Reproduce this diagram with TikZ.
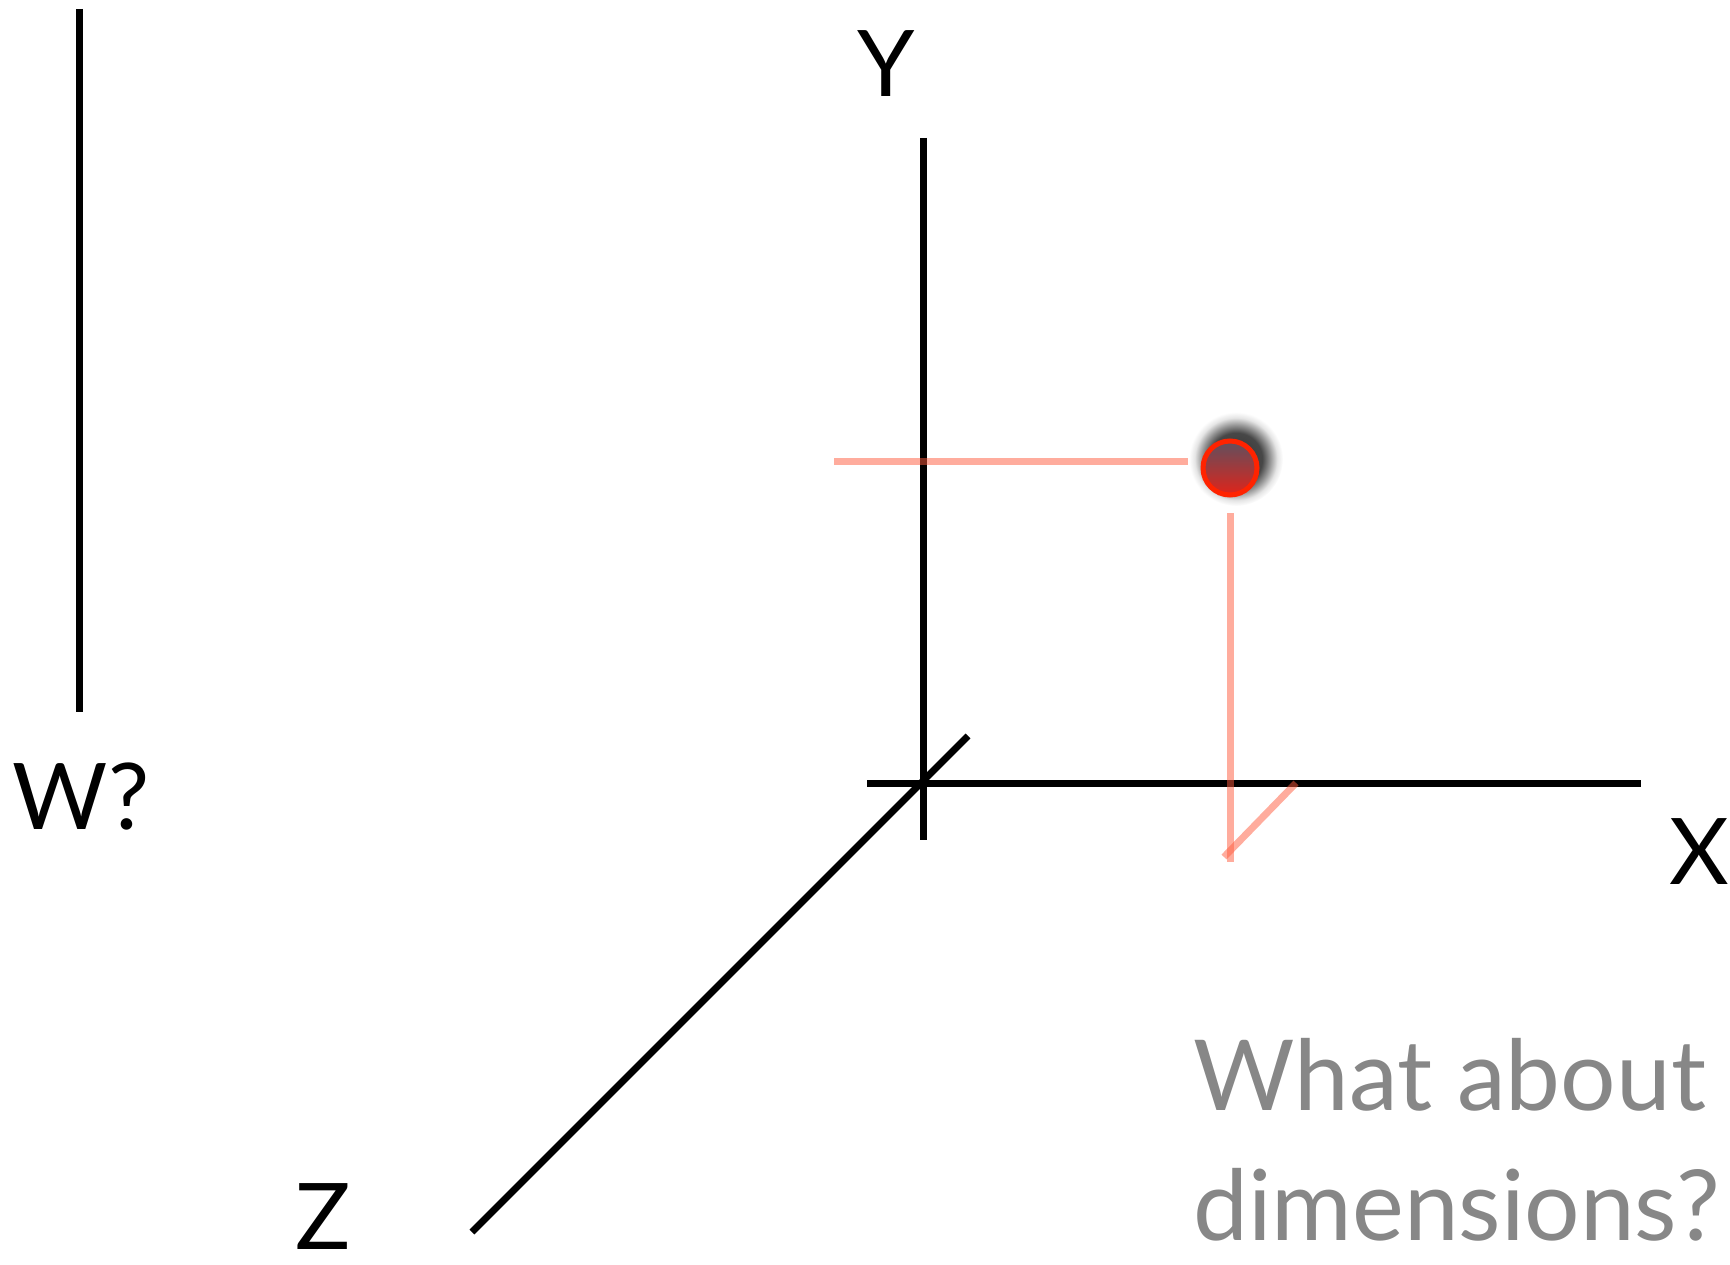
\documentclass[tikz,border=0pt]{standalone}
\usepackage{fontspec}
\setmainfont{Lato}
\definecolor{guidered}{RGB}{255,90,60}
\definecolor{ringred}{RGB}{255,35,0}
\definecolor{notegray}{RGB}{135,135,135}
\pgfdeclareradialshading{blurshadow}{\pgfpoint{0bp}{0bp}}{%
  color(0bp)=(black!80); color(14bp)=(black!72); color(18bp)=(black!42);
  color(22bp)=(black!10); color(25bp)=(white); color(50bp)=(white)}
\tikzset{
  axis/.style={line width=7pt,black},
  guide/.style={line width=7pt,guidered,opacity=0.5},
  lbl/.style={inner sep=0pt,font=\fontsize{92}{100}\selectfont},
  note/.style={inner sep=0pt,anchor=base west,text=notegray,font=\fontsize{98}{110}\selectfont}
}
\begin{document}
\begin{tikzpicture}[x=1pt,y=-1pt]
    \useasboundingbox (0,0) rectangle (1730,1265);
    % the fourth axis
    \coordinate (wtop) at (79,9);
    \coordinate (wbot) at (79,712);
    \draw[axis] (wtop) -- (wbot);
    \node[lbl] (wlabel) at (81,797) {W?};

    % the three axes
    \coordinate (ytop) at (923,138);
    \coordinate (ybot) at (923,840);
    \coordinate (xleft) at (867,783);
    \coordinate (xright) at (1641,783);
    \coordinate (zback) at (968,736);
    \coordinate (zfront) at (472,1232);
    \draw[axis] (ytop) -- (ybot);
    \draw[axis] (xleft) -- (xright);
    \draw[axis] (zback) -- (zfront);
    \node[lbl] (ylabel) at (886,64) {Y};
    \node[lbl] (xlabel) at (1699,852) {X};
    \node[lbl] (zlabel) at (323,1217) {Z};

    % guides to the point
    \coordinate (hleft) at (834,461);
    \coordinate (hright) at (1188,461);
    \coordinate (vtop) at (1230,513);
    \coordinate (vbot) at (1230,862);
    \coordinate (dtop) at (1296,783);
    \coordinate (dbot) at (1224,857);
    \draw[guide] (hleft) -- (hright);
    \draw[guide] (vtop) -- (vbot);
    \draw[guide] (dtop) -- (dbot);

    % the point and its blurred shadow
    \coordinate (shadowc) at (1236,459);
    \shade[shading=blurshadow] (shadowc) circle (47);
    \node[circle,minimum size=54pt,inner sep=0pt,draw=ringred,line width=5pt,
          top color={rgb,255:red,95;green,80;blue,95},bottom color={rgb,255:red,225;green,35;blue,25}]
          (pt) at (1230,468) {};

    % question
    \node[note] (line1) at (1193,1110) {What about};
    \node[note] (line2) at (1193,1240) {dimensions?};
\end{tikzpicture}
\end{document}
